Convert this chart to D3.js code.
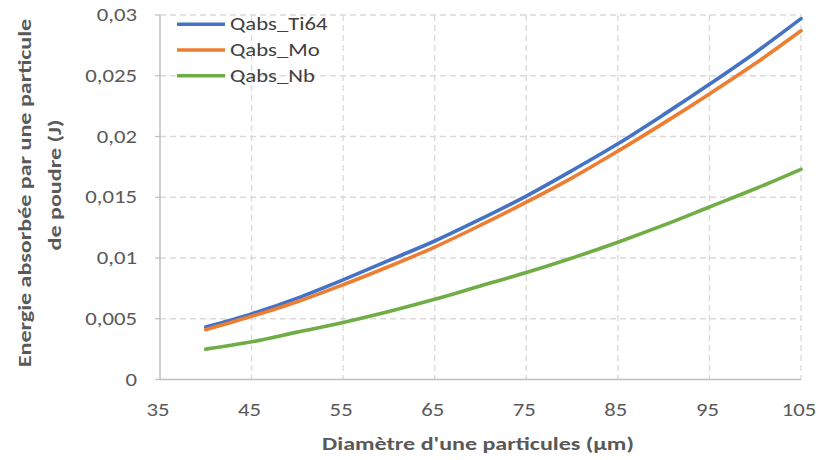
<!DOCTYPE html>
<html><head><meta charset="utf-8">
<script src="https://cdn.jsdelivr.net/npm/d3@7"></script>
<style>
body{margin:0;background:#fff;}
text{font-family:Calibri,Carlito,Lato,"Open Sans",sans-serif;}
</style></head>
<body><svg id="c" width="817" height="460"></svg>
<script>
const diameters = [40,45,50,55,60,65,70,75,80,85,90,95,100,105];
const qTi64 = [0.00432,0.0054,0.0067,0.0082,0.0098,0.0114,0.0132,0.0151,0.0172,0.0194,0.0218,0.0243,0.0269,0.0297];
const qMo   = [0.0041,0.0052,0.0064,0.0078,0.0093,0.0109,0.0127,0.0146,0.0166,0.0188,0.0211,0.0235,0.0260,0.0287];
const qNb   = [0.0025,0.0031,0.0039,0.0047,0.0056,0.0066,0.0077,0.0088,0.0100,0.0113,0.0127,0.0142,0.0157,0.0173];
const seriesNames = ["Qabs_Ti64","Qabs_Mo","Qabs_Nb"];
const seriesColors = ["#4472C4","#ED7D31","#70AD47"];
const xTicks = [35,45,55,65,75,85,95,105];
const yTicks = [0,0.005,0.01,0.015,0.02,0.025,0.03];
const yTickLabels = ["0","0,005","0,01","0,015","0,02","0,025","0,03"];

const SX = 1.3;
const svg = d3.select("#c");
const L=160,R=801,T=15,B=379.5;
const x = d3.scaleLinear().domain([35,105]).range([L,R]);
const y = d3.scaleLinear().domain([0,0.03]).range([B,T]);

// gridlines
svg.append("g").selectAll("line").data(yTicks.slice(1)).join("line")
  .attr("x1",L).attr("x2",R).attr("y1",d=>y(d)).attr("y2",d=>y(d))
  .attr("stroke","#d9d9d9").attr("stroke-width",1.3).attr("stroke-dasharray","6,4");
svg.append("g").selectAll("line").data(xTicks.slice(1)).join("line")
  .attr("y1",T).attr("y2",B).attr("x1",d=>x(d)).attr("x2",d=>x(d))
  .attr("stroke","#d9d9d9").attr("stroke-width",1.3).attr("stroke-dasharray","6,4");

// axes lines
svg.append("line").attr("x1",L).attr("x2",L).attr("y1",T).attr("y2",B).attr("stroke","#bfbfbf").attr("stroke-width",1.5);
svg.append("line").attr("x1",L).attr("x2",R).attr("y1",B).attr("y2",B).attr("stroke","#bfbfbf").attr("stroke-width",1.5);
svg.append("g").selectAll("line").data(yTicks).join("line")
  .attr("x1",L-5).attr("x2",L).attr("y1",d=>y(d)).attr("y2",d=>y(d)).attr("stroke","#bfbfbf").attr("stroke-width",1.2);

// tick labels
svg.append("g").selectAll("text").data(yTicks).join("text")
  .attr("transform",d=>`translate(137,${y(d)}) scale(${SX},1)`).attr("dy","0.35em").attr("text-anchor","end")
  .attr("font-size",17.5).attr("fill","#595959").text((d,i)=>yTickLabels[i]);
svg.append("g").selectAll("text").data(xTicks).join("text")
  .attr("transform",d=>`translate(${x(d)-2},410) scale(${SX},1)`).attr("dy","0.35em").attr("text-anchor","middle")
  .attr("font-size",17.5).attr("fill","#595959").text(d=>d);

// lines
const allSeries=[qTi64,qMo,qNb];
const line = d3.line().x((d,i)=>x(diameters[i])).y(d=>y(d)).curve(d3.curveCatmullRom.alpha(0.5));
allSeries.forEach((s,k)=>{
  svg.append("path").datum(s).attr("d",line).attr("fill","none")
    .attr("stroke",seriesColors[k]).attr("stroke-width",3.6).attr("stroke-linecap","round");
});

// legend
seriesNames.forEach((n,k)=>{
  const yy=24.3+k*25.7;
  svg.append("line").attr("x1",177).attr("x2",225).attr("y1",yy).attr("y2",yy)
    .attr("stroke",seriesColors[k]).attr("stroke-width",3.6);
  svg.append("text").attr("transform",`translate(230,${yy}) scale(${SX},1)`).attr("dy","0.35em").attr("font-size",17.5)
    .attr("fill","#404040").text(n);
});

// axis titles
svg.append("text").attr("transform",`translate(478,444) scale(${SX},1)`).attr("dy","0.35em").attr("text-anchor","middle")
  .attr("font-size",18.5).attr("font-weight","bold").attr("fill","#595959").text("Diamètre d'une particules (µm)");
svg.append("text").attr("transform",`translate(25,193) rotate(-90) scale(${SX},1)`).attr("dy","0.35em").attr("text-anchor","middle")
  .attr("font-size",18.5).attr("font-weight","bold").attr("fill","#595959").text("Energie absorbée par une particule");
svg.append("text").attr("transform",`translate(55,185) rotate(-90) scale(${SX},1)`).attr("dy","0.35em").attr("text-anchor","middle")
  .attr("font-size",18.5).attr("font-weight","bold").attr("fill","#595959").text("de poudre (J)");
</script></body></html>
